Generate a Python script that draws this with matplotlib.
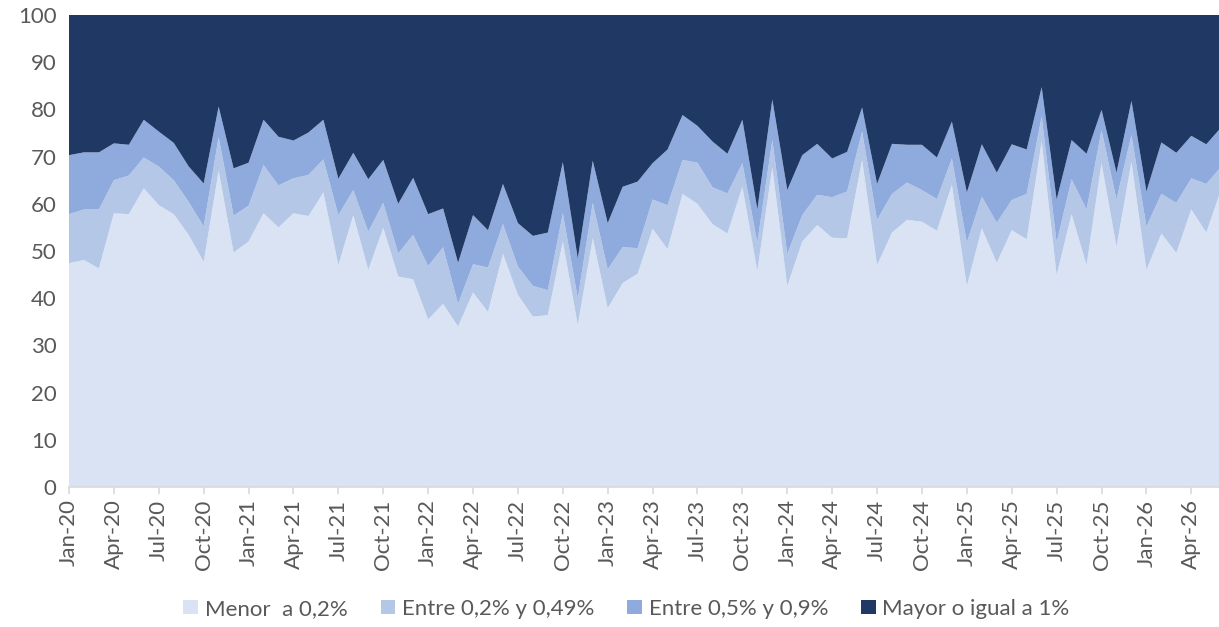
import matplotlib
matplotlib.use("Agg")
import matplotlib.pyplot as plt
import numpy as np
import pandas as pd

# cumulative boundaries (Jan-20 .. Jun-26)
menor = [47.4, 48.1, 46.3, 58.0, 57.8, 63.3, 59.7, 57.8, 53.4, 47.7, 67.0, 49.7, 52.0,
         58.0, 55.0, 58.0, 57.4, 62.4, 47.0, 57.6, 46.0, 54.9, 44.6, 44.0, 35.5, 38.8,
         34.0, 41.2, 37.1, 49.4, 40.7, 36.1, 36.4, 52.0, 34.3, 52.7, 37.9, 43.2, 45.2,
         54.7, 50.4, 62.1, 60.0, 55.7, 53.7, 63.6, 45.8, 67.7, 42.6, 52.0, 55.5, 52.8,
         52.7, 69.3, 47.0, 53.9, 56.6, 56.2, 54.3, 64.0, 42.6, 54.8, 47.5, 54.4,
         52.5, 73.2, 44.9, 57.8, 47.0, 68.6, 50.9, 68.9, 46.0, 53.7, 49.6, 58.8, 53.9, 63.1]
hasta_049 = [57.8, 58.8, 58.8, 65.0, 66.0, 69.8, 67.9, 65.0, 60.4, 55.2, 74.1, 57.5, 59.6,
             68.2, 63.9, 65.4, 66.1, 69.4, 57.6, 62.9, 54.1, 60.2, 49.5, 53.4, 46.8, 50.8,
             38.8, 47.2, 46.5, 55.7, 46.7, 42.6, 41.7, 58.0, 40.0, 60.2, 46.1, 50.8, 50.6,
             60.9, 59.7, 69.3, 68.7, 63.5, 62.2, 68.6, 51.8, 73.5, 49.4, 57.6, 61.9, 61.4,
             62.6, 75.3, 56.6, 62.1, 64.5, 62.9, 61.0, 69.6, 51.8, 61.5, 56.0, 60.8,
             62.1, 78.5, 51.8, 65.2, 58.8, 75.6, 60.9, 74.6, 55.2, 62.1, 60.2, 65.4, 64.2, 67.9]
hasta_09 = [70.3, 70.9, 70.9, 72.8, 72.5, 77.8, 75.3, 72.9, 67.9, 64.3, 80.6, 67.5, 68.7,
            77.8, 74.2, 73.4, 75.1, 77.8, 65.3, 70.8, 65.2, 69.3, 60.0, 65.5, 57.8, 59.0,
            47.5, 57.6, 54.4, 64.2, 55.9, 53.2, 53.9, 68.8, 48.4, 69.1, 55.9, 63.6, 64.7,
            68.6, 71.5, 78.8, 76.5, 73.2, 70.6, 77.8, 58.8, 82.1, 62.9, 70.3, 72.7, 69.6,
            71.0, 80.4, 64.2, 72.7, 72.5, 72.5, 69.8, 77.4, 62.4, 72.6, 66.6, 72.6,
            71.5, 84.7, 60.9, 73.5, 70.6, 79.9, 66.6, 81.8, 62.6, 73.0, 70.8, 74.4, 72.6, 76.2]

labels = ["Menor  a 0,2%", "Entre 0,2% y 0,49%", "Entre 0,5% y 0,9%", "Mayor o igual a 1%"]
colors = ["#DAE3F3", "#B4C7E7", "#8FAADC", "#203864"]

menor = np.array(menor)
hasta_049 = np.array(hasta_049)
hasta_09 = np.array(hasta_09)
s1 = menor
s2 = hasta_049 - menor
s3 = hasta_09 - hasta_049
s4 = 100 - hasta_09

meses = pd.date_range("2020-01-01", periods=len(menor), freq="MS")
x = np.arange(len(meses))
tick_idx = x[::3]
tick_lbl = [meses[i].strftime("%b-%y") for i in tick_idx]

plt.rcParams['font.family'] = ['Lato', 'DejaVu Sans']
grey = "#595959"

fig = plt.figure(figsize=(12.19, 6.27), dpi=100)
ax = fig.add_axes([0.0566, 0.2233, 0.9434, 0.7528])

ax.stackplot(x, s1, s2, s3, s4, colors=colors, labels=labels, linewidth=0)

ax.set_xlim(0, 76.85)
ax.set_ylim(0, 100)
ax.set_yticks(range(0, 101, 10))
ax.set_xticks(tick_idx)
ax.set_xticklabels(tick_lbl, rotation=90)
ax.tick_params(axis="y", length=0, labelsize=16, labelcolor=grey, pad=9)
ax.tick_params(axis="x", length=5, width=1.2, color="#D9D9D9", labelsize=16,
               labelcolor=grey, pad=4)
for side in ["top", "right", "left"]:
    ax.spines[side].set_visible(False)
ax.spines["bottom"].set_color("#D9D9D9")
ax.spines["bottom"].set_linewidth(1.2)

leg = fig.legend(loc="center", bbox_to_anchor=(0.514, 0.029), ncol=4, frameon=False,
                 fontsize=16, labelcolor=grey, handlelength=0.65, handleheight=0.65,
                 handletextpad=0.3, columnspacing=1.5)

fig.savefig("out.png", dpi=100)
